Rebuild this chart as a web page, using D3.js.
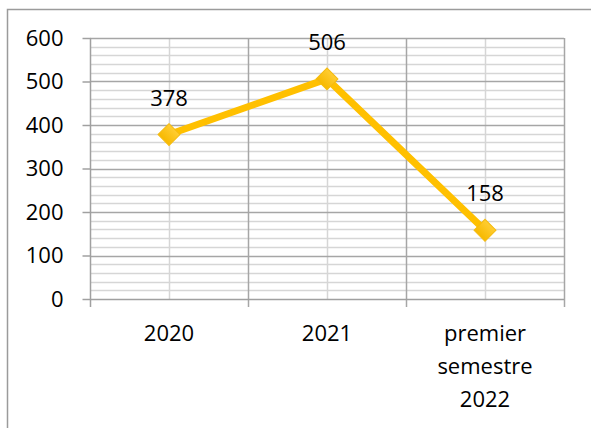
<!DOCTYPE html>
<html>
<head>
<meta charset="utf-8">
<script src="https://cdn.jsdelivr.net/npm/d3@7/dist/d3.min.js"></script>
<style>
  html, body { margin: 0; padding: 0; background: #fff; }
  svg { display: block; }
  text { font-family: "Open Sans", "Noto Sans", sans-serif; fill: #000; }
</style>
</head>
<body>
<svg id="chart" width="591" height="428"></svg>
<script>
// Categories (each label split into its display lines) and values
const categories = ["2020", "2021", "premier semestre 2022"];
const categoryLines = [["2020"], ["2021"], ["premier", "semestre", "2022"]];
const values = [378, 506, 158];
const yTicks = [0, 100, 200, 300, 400, 500, 600];
const yMinorStep = 20;

const W = 591, H = 428;
const plot = { left: 90, right: 564, top: 38, bottom: 299 };

const svg = d3.select("#chart");

// Chart frame (extends past the visible window on the right and bottom)
svg.append("rect")
  .attr("x", 7.5).attr("y", 9.5)
  .attr("width", 700).attr("height", 500)
  .attr("fill", "none")
  .attr("stroke", "#9b9b9b")
  .attr("stroke-width", 1.5);

const x = d3.scaleBand().domain(categories).range([plot.left, plot.right]).padding(0);
const y = d3.scaleLinear().domain([0, 600]).range([plot.bottom, plot.top]);

const grid = svg.append("g");

// Minor horizontal gridlines
const minor = d3.range(0, 600 + 1, yMinorStep).filter(v => v % 100 !== 0);
grid.selectAll("line.minor").data(minor).join("line")
  .attr("x1", plot.left).attr("x2", plot.right)
  .attr("y1", d => Math.round(y(d)) + 0.5).attr("y2", d => Math.round(y(d)) + 0.5)
  .attr("stroke", "#d6d6d6").attr("stroke-width", 1.5);

// Vertical gridlines through category centres
grid.selectAll("line.center").data(categories).join("line")
  .attr("x1", d => Math.round(x(d) + x.bandwidth() / 2) + 0.5)
  .attr("x2", d => Math.round(x(d) + x.bandwidth() / 2) + 0.5)
  .attr("y1", plot.top).attr("y2", plot.bottom)
  .attr("stroke", "#d6d6d6").attr("stroke-width", 1.5);

// Major horizontal gridlines
grid.selectAll("line.major").data(yTicks.filter(v => v > 0)).join("line")
  .attr("x1", plot.left).attr("x2", plot.right)
  .attr("y1", d => Math.round(y(d)) + 0.5).attr("y2", d => Math.round(y(d)) + 0.5)
  .attr("stroke", "#a6a6a6").attr("stroke-width", 1.5);

// Category boundary lines
const bounds = categories.map(c => x(c)).concat([plot.right]);
grid.selectAll("line.bound").data(bounds.slice(1)).join("line")
  .attr("x1", d => Math.round(d) + 0.5).attr("x2", d => Math.round(d) + 0.5)
  .attr("y1", plot.top).attr("y2", plot.bottom + 8)
  .attr("stroke", "#a6a6a6").attr("stroke-width", 1.5);

// Y axis
const yAxis = svg.append("g")
  .attr("transform", `translate(${plot.left + 0.5},0)`)
  .call(d3.axisLeft(y).tickValues(yTicks).tickSize(8).tickPadding(19).tickFormat(d3.format("d")));
yAxis.select(".domain").attr("stroke", "#a0a0a0").attr("stroke-width", 1.5)
  .attr("d", `M0,${plot.top}V${plot.bottom + 8}`);
yAxis.selectAll(".tick line").attr("stroke", "#a0a0a0").attr("stroke-width", 1.5);
yAxis.selectAll(".tick text")
  .style("font-family", "'Open Sans', 'Noto Sans', sans-serif")
  .style("font-size", "22px").attr("fill", "#000");

// X axis line
svg.append("line")
  .attr("x1", plot.left).attr("x2", plot.right)
  .attr("y1", plot.bottom + 0.5).attr("y2", plot.bottom + 0.5)
  .attr("stroke", "#a0a0a0").attr("stroke-width", 1.5);

// Category labels
const catLabels = svg.append("g").selectAll("text").data(categories).join("text")
  .attr("x", d => x(d) + x.bandwidth() / 2)
  .attr("y", 341)
  .attr("text-anchor", "middle")
  .style("font-size", "22px");
catLabels.each(function(d, i) {
  d3.select(this).selectAll("tspan").data(categoryLines[i]).join("tspan")
    .attr("x", x(d) + x.bandwidth() / 2)
    .attr("dy", (t, j) => j === 0 ? 0 : 33)
    .text(t => t);
});

// Marker gradient
const defs = svg.append("defs");
const grad = defs.append("linearGradient").attr("id", "mk")
  .attr("x1", "0").attr("y1", "0").attr("x2", "0").attr("y2", "1");
grad.append("stop").attr("offset", "0%").attr("stop-color", "#ffcd33");
grad.append("stop").attr("offset", "100%").attr("stop-color", "#f7b900");

const pts = categories.map((c, i) => [x(c) + x.bandwidth() / 2, y(values[i])]);

// Series line
svg.append("path")
  .attr("d", d3.line()(pts))
  .attr("fill", "none")
  .attr("stroke", "#ffc000")
  .attr("stroke-width", 7)
  .attr("stroke-linejoin", "round");

// Diamond markers
svg.append("g").selectAll("path").data(pts).join("path")
  .attr("transform", d => `translate(${d[0]},${d[1]}) rotate(45)`)
  .attr("d", d3.symbol(d3.symbolSquare, 240)())
  .attr("fill", "url(#mk)")
  .attr("stroke", "#f5bb10")
  .attr("stroke-width", 1);

// Value labels
svg.append("g").selectAll("text").data(values).join("text")
  .attr("x", (d, i) => pts[i][0])
  .attr("y", (d, i) => pts[i][1] - 29)
  .attr("text-anchor", "middle")
  .style("font-size", "22px")
  .text(d => d);
</script>
</body>
</html>
